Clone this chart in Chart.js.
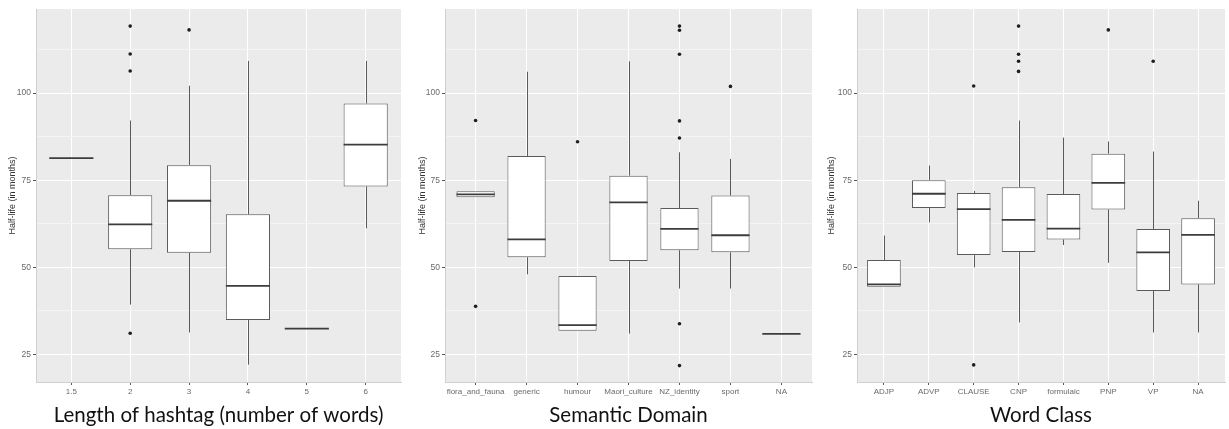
<!DOCTYPE html>
<html>
<head>
<meta charset="utf-8">
<script src="https://cdn.jsdelivr.net/npm/chart.js@4.4.1/dist/chart.umd.min.js"></script>
<style>
  html, body { margin: 0; padding: 0; background: #fff; }
  #page { position: relative; width: 1229px; height: 429px; overflow: hidden; }
  .panel { position: absolute; top: 0; }
</style>
</head>
<body>
<div id="page">
  <div class="panel" style="left:0px"><canvas id="chart-length" width="405" height="429"></canvas></div>
  <div class="panel" style="left:408px"><canvas id="chart-domain" width="408" height="429"></canvas></div>
  <div class="panel" style="left:816px"><canvas id="chart-class" width="413" height="429"></canvas></div>
</div>
<script>
// half-life box plots: whisker low, Q1, median, Q3, whisker high, outliers

const yTicks = [25, 50, 75, 100];
const yMinor = [37.5, 62.5, 87.5, 112.5];
const yMin = 17.1;
const yMax = 124.1;

// length of hashtag
const lengthCats = ['1.5', '2', '3', '4', '5', '6'];
const lengthLow = [81.3, 39.3, 31.3, 22.1, 32.4, 61.2];
const lengthQ1 = [81.3, 55.2, 54.2, 34.9, 32.4, 73.2];
const lengthMed = [81.3, 62.3, 69.1, 44.7, 32.4, 85.2];
const lengthQ3 = [81.3, 70.7, 79.3, 65.2, 32.4, 97.0];
const lengthHigh = [81.3, 92.1, 102.1, 109.2, 32.4, 109.2];
const lengthOut = [[], [119.2, 111.2, 106.3, 31.1], [118.1], [], [], []];

// semantic domain
const domainCats = ['flora_and_fauna', 'generic', 'humour', 'Maori_culture', 'NZ_identity', 'sport', 'NA'];
const domainLow = [70.1, 48.0, 31.8, 31.0, 43.9, 43.9, 30.9];
const domainQ1 = [70.1, 52.9, 31.8, 51.8, 54.9, 54.3, 30.9];
const domainMed = [70.9, 58.0, 33.4, 68.6, 61.0, 59.2, 30.9];
const domainQ3 = [71.8, 81.9, 47.5, 76.3, 67.0, 70.6, 30.9];
const domainHigh = [71.8, 106.1, 47.5, 109.1, 83.0, 81.1, 30.9];
const domainOut = [[92.1, 38.8], [], [86.0], [], [119.2, 118.0, 111.1, 92.0, 87.1, 33.8, 21.8], [101.9], []];

// word class
const classCats = ['ADJP', 'ADVP', 'CLAUSE', 'CNP', 'formulaic', 'PNP', 'VP', 'NA'];
const classLow = [44.4, 62.9, 50.0, 34.2, 56.4, 51.3, 31.3, 31.3];
const classQ1 = [44.4, 67.0, 53.5, 54.4, 58.0, 66.6, 43.2, 45.1];
const classMed = [45.1, 71.1, 66.7, 63.6, 61.1, 74.2, 54.3, 59.3];
const classQ3 = [52.1, 75.0, 71.3, 73.0, 71.0, 82.6, 61.0, 64.1];
const classHigh = [59.1, 79.2, 71.9, 92.1, 87.2, 86.1, 83.2, 69.1];
const classOut = [[], [], [102.0, 22.0], [119.2, 111.1, 109.1, 106.2], [], [118.1], [109.1], []];

const tickFont = 'Liberation Sans, Arial, sans-serif';

// grey panel behind the plot area
const panelBackground = {
  id: 'panelBackground',
  beforeDraw(chart) {
    const { ctx, chartArea: a } = chart;
    ctx.save();
    ctx.fillStyle = '#EBEBEB';
    ctx.fillRect(a.left, a.top, a.right - a.left, a.bottom - a.top);
    ctx.restore();
  },
};

// whiskers under the boxes, medians on top
const boxParts = {
  id: 'boxParts',
  beforeDatasetsDraw(chart, args, opts) {
    const { ctx, scales: { x, y } } = chart;
    ctx.save();
    ctx.strokeStyle = '#5a5a5a';
    ctx.lineWidth = 1;
    opts.low.forEach((lo, i) => {
      const px = Math.round(x.getPixelForValue(i)) + 0.5;
      ctx.beginPath();
      ctx.moveTo(px, y.getPixelForValue(lo));
      ctx.lineTo(px, y.getPixelForValue(opts.q1[i]));
      ctx.moveTo(px, y.getPixelForValue(opts.q3[i]));
      ctx.lineTo(px, y.getPixelForValue(opts.high[i]));
      ctx.stroke();
    });
    ctx.restore();
  },
  afterDatasetsDraw(chart, args, opts) {
    const { ctx, scales: { y } } = chart;
    const bars = chart.getDatasetMeta(0).data;
    ctx.save();
    ctx.strokeStyle = '#3c3c3c';
    ctx.lineWidth = 1.8;
    opts.med.forEach((m, i) => {
      const { x, width } = bars[i].getProps(['x', 'width'], true);
      const py = y.getPixelForValue(m);
      ctx.beginPath();
      ctx.moveTo(x - width / 2, py);
      ctx.lineTo(x + width / 2, py);
      ctx.stroke();
    });
    ctx.restore();
  },
};

function drawBoxChart(canvasId, cats, low, q1, med, q3, high, outliers, xTitle, frame) {
  const boxes = cats.map((c, i) => ({ x: i, y: [q1[i], q3[i]] }));
  const points = [];
  outliers.forEach((vals, i) => vals.forEach(v => points.push({ x: i, y: v })));
  const isMajor = v => yTicks.includes(v);

  return new Chart(document.getElementById(canvasId), {
    type: 'bar',
    data: {
      datasets: [
        {
          type: 'bar',
          data: boxes,
          backgroundColor: '#ffffff',
          borderColor: '#5a5a5a',
          borderWidth: 1,
          borderSkipped: false,
          barPercentage: 0.75,
          categoryPercentage: 1,
        },
        {
          type: 'scatter',
          data: points,
          backgroundColor: '#1e1e1e',
          borderColor: '#1e1e1e',
          borderWidth: 0,
          pointRadius: 1.8,
          clip: false,
        },
      ],
    },
    options: {
      responsive: false,
      animation: false,
      layout: { padding: { top: 9, right: frame.padRight, left: 0, bottom: 0 } },
      plugins: {
        legend: { display: false },
        tooltip: { enabled: false },
        boxParts: { low, q1, med, q3, high },
      },
      scales: {
        x: {
          type: 'linear',
          offset: false,
          min: -0.6,
          max: cats.length - 0.4,
          afterBuildTicks: s => { s.ticks = cats.map((c, i) => ({ value: i })); },
          afterFit: s => { s.height = 47; },
          ticks: {
            callback: v => cats[v],
            autoSkip: false,
            maxRotation: 0,
            color: '#6a6a6a',
            font: { family: tickFont, size: 8 },
            padding: 2,
          },
          grid: { offset: false, color: '#ffffff', lineWidth: 1, tickLength: 3, tickColor: '#555555' },
          border: { display: true, color: '#d0d0d0' },
          title: {
            display: true,
            text: xTitle,
            color: '#111111',
            font: { family: 'Lato', size: 20.5, lineHeight: 1 },
            padding: { top: 0, bottom: 3 },
          },
        },
        y: {
          min: yMin,
          max: yMax,
          stacked: false,
          afterBuildTicks: s => {
            s.ticks = yTicks.concat(yMinor).sort((a, b) => a - b).map(v => ({ value: v }));
          },
          afterFit: s => { s.width = frame.axisWidth; },
          ticks: {
            callback: v => (isMajor(v) ? v : ''),
            color: '#6a6a6a',
            font: { family: tickFont, size: 8.5 },
            padding: 2,
          },
          grid: {
            color: ctx => (isMajor(ctx.tick.value) ? '#ffffff' : '#F4F4F4'),
            tickLength: 3,
            tickColor: ctx => (isMajor(ctx.tick.value) ? '#555555' : 'rgba(0,0,0,0)'),
          },
          border: { display: true, color: '#d0d0d0' },
          title: {
            display: true,
            text: 'Half-life (in months)',
            color: '#333333',
            font: { family: tickFont, size: 9, lineHeight: 1 },
            padding: { top: frame.titlePad, bottom: 0 },
          },
        },
      },
    },
    plugins: [panelBackground, boxParts],
  });
}

drawBoxChart('chart-length', lengthCats, lengthLow, lengthQ1, lengthMed, lengthQ3, lengthHigh, lengthOut,
  'Length of hashtag (number of words)', { axisWidth: 36, padRight: 2, titlePad: 8.5 });
drawBoxChart('chart-domain', domainCats, domainLow, domainQ1, domainMed, domainQ3, domainHigh, domainOut,
  'Semantic Domain', { axisWidth: 37, padRight: 1, titlePad: 10.5 });
drawBoxChart('chart-class', classCats, classLow, classQ1, classMed, classQ3, classHigh, classOut,
  'Word Class', { axisWidth: 41, padRight: 4, titlePad: 11.5 });
</script>
</body>
</html>
